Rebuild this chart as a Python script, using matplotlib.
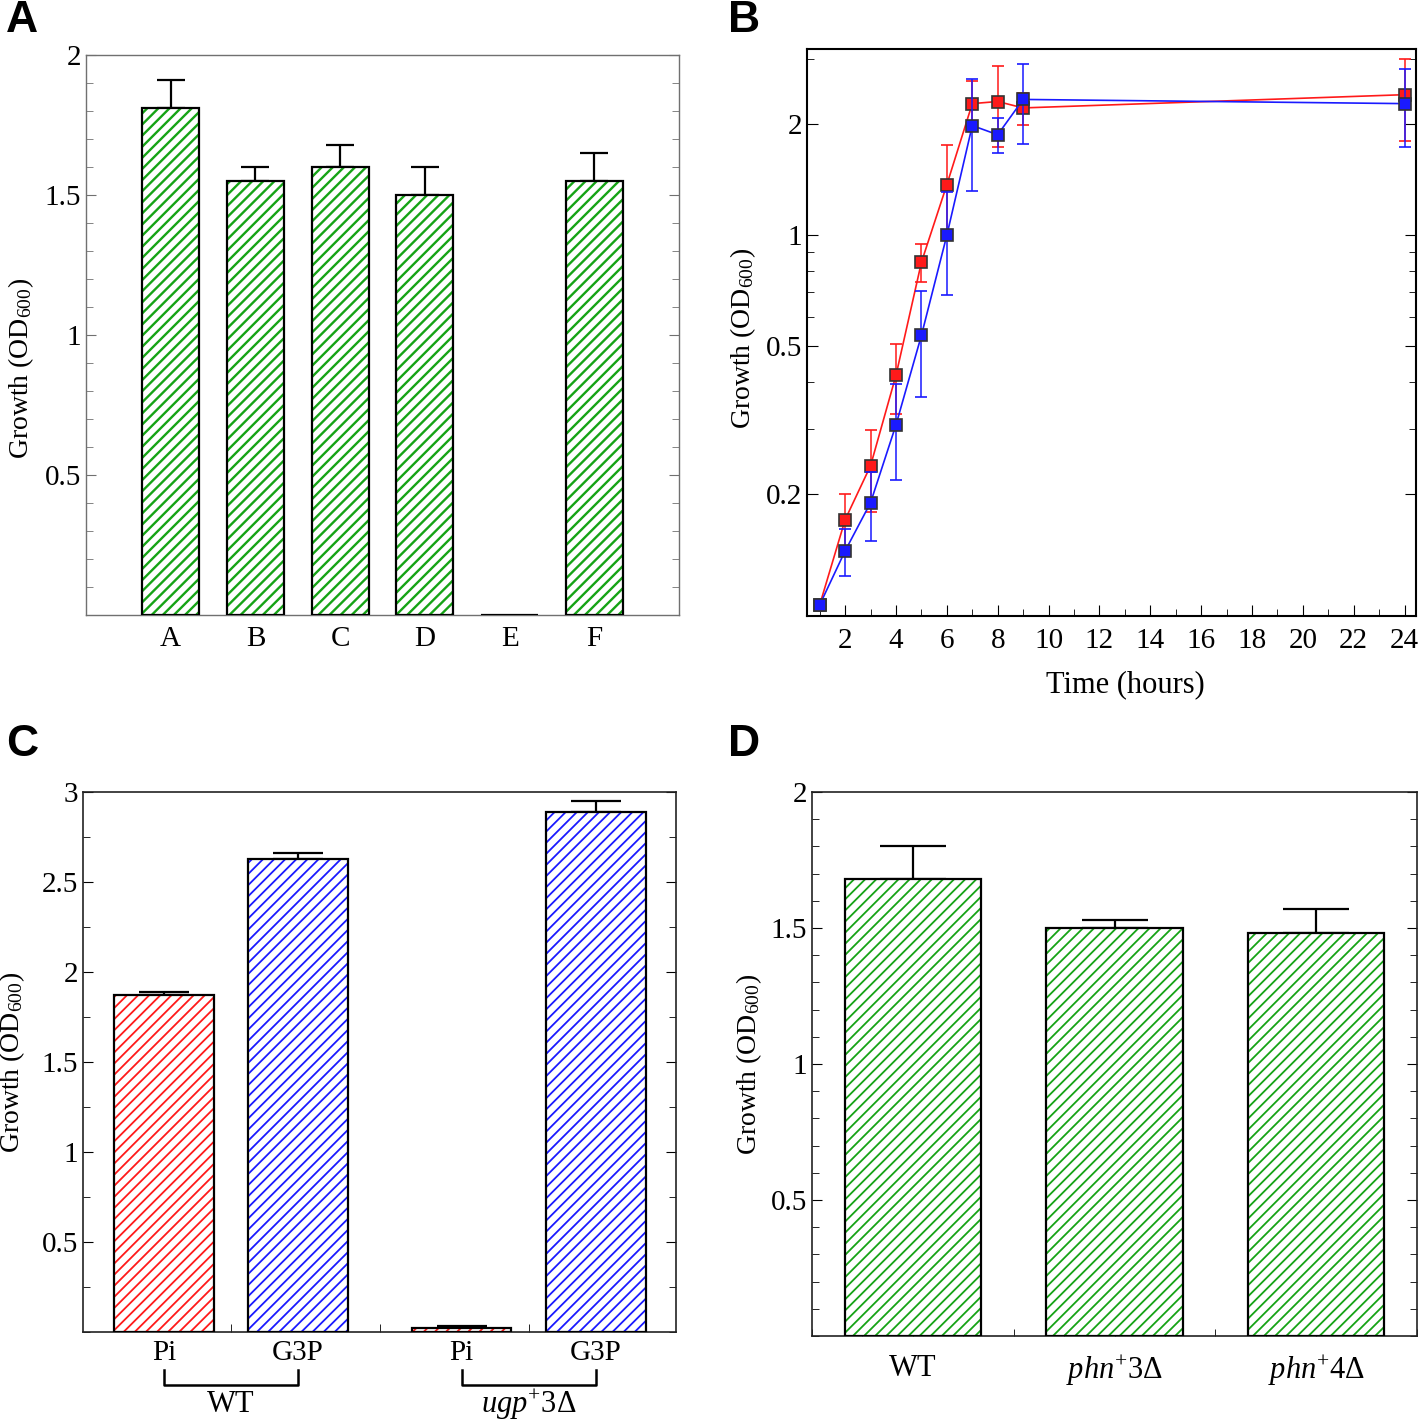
import numpy as np
import matplotlib
matplotlib.use('Agg')
import matplotlib.pyplot as plt
from matplotlib.ticker import FixedLocator, MultipleLocator, NullFormatter, FixedFormatter, FormatStrFormatter
import matplotlib.transforms as mtransforms

plt.rcParams['font.family'] = ['Liberation Serif', 'DejaVu Serif']
plt.rcParams['mathtext.fontset'] = 'custom'
plt.rcParams['mathtext.rm'] = 'Liberation Serif'
plt.rcParams['mathtext.it'] = 'Liberation Serif:italic'
plt.rcParams['mathtext.default'] = 'regular'

# panel A
a_labels = ['A', 'B', 'C', 'D', 'E', 'F']
a_vals = [1.81, 1.55, 1.60, 1.50, 0.0, 1.55]
a_err = [0.10, 0.05, 0.08, 0.10, 0.0, 0.10]

# panel B (time course)
b_time = [1, 2, 3, 4, 5, 6, 7, 8, 9, 24]
b_red = [0.10, 0.17, 0.238, 0.418, 0.845, 1.37, 2.27, 2.30, 2.21, 2.40]
b_red_err = [0.0, 0.03, 0.06, 0.09, 0.10, 0.38, 0.34, 0.57, 0.22, 0.60]
b_blue = [0.10, 0.14, 0.189, 0.307, 0.536, 1.00, 1.98, 1.87, 2.33, 2.27]
b_blue_err = [0.0, 0.02, 0.04, 0.09, 0.17, 0.31, 0.66, 0.20, 0.57, 0.54]

# panel C
c_labels = ['Pi', 'G3P', 'Pi', 'G3P']
c_groups = ['WT', r'$\it{ugp}^{+}$3Δ']
c_vals = [1.87, 2.63, 0.02, 2.89]
c_err = [0.02, 0.03, 0.015, 0.06]

# panel D
d_labels = ['WT', r'$\it{phn}^{+}$3Δ', r'$\it{phn}^{+}$4Δ']
d_vals = [1.68, 1.50, 1.48]
d_err = [0.12, 0.03, 0.09]

GREEN = '#16a316'
RED = '#ff1a1a'
BLUE = '#1a1aff'
TS = 21
yfmt = FormatStrFormatter('%g')


def hatched_bars(ax, x, h, w, color, hlw, hatch='///'):
    plt.rcParams['hatch.linewidth'] = hlw
    bars = ax.bar(x, h, w, color='white', edgecolor=color, hatch=hatch, linewidth=0, zorder=2)
    for b in bars:
        if hasattr(b, 'set_hatch_linewidth'):
            b.set_hatch_linewidth(hlw)
    ax.bar(x, h, w, fill=False, edgecolor='black', linewidth=1.6, zorder=3)


def up_err(ax, x, v, e, cap):
    ax.errorbar(x, v, yerr=[np.zeros(len(e)), e], fmt='none', ecolor='black',
                elinewidth=1.6, capsize=cap, capthick=1.6, zorder=1)


def style_spines(ax, color, lw):
    for s in ax.spines.values():
        s.set_color(color)
        s.set_linewidth(lw)


fig = plt.figure(figsize=(14.18, 14.21), dpi=100)

# ---- A ----
axA = fig.add_axes([86 / 1418, 1 - 615 / 1421, 593 / 1418, 560 / 1421])
xa = np.arange(len(a_vals))
hatched_bars(axA, xa, a_vals, 0.67, GREEN, 1.7)
mask = [i for i in range(len(a_vals)) if a_err[i] > 0]
up_err(axA, xa[mask], np.array(a_vals)[mask], np.array(a_err)[mask], 10)
axA.set_xlim(-1, 6)
axA.set_ylim(0, 2)
axA.set_xticks(xa)
axA.set_xticklabels(a_labels)
axA.yaxis.set_major_locator(FixedLocator([0.5, 1, 1.5, 2]))
axA.yaxis.set_major_formatter(yfmt)
axA.yaxis.set_minor_locator(MultipleLocator(0.1))
axA.tick_params(axis='x', length=0, pad=8, labelsize=TS)
axA.tick_params(axis='y', which='both', direction='in', left=True, right=True, labelsize=TS, color='#707070')
axA.tick_params(axis='y', which='major', length=7)
axA.tick_params(axis='y', which='minor', length=5)
style_spines(axA, '#707070', 1.0)
axA.set_ylabel('Growth (OD$_{600}$)', fontsize=TS - 1)
axA.yaxis.set_label_coords(-0.085, 0.44)

# ---- B ----
axB = fig.add_axes([807 / 1418, 1 - 616 / 1421, 609 / 1418, 567 / 1421])
axB.errorbar(b_time, b_red, yerr=b_red_err, color=RED, ecolor=RED, lw=1.2, elinewidth=1.1,
             capsize=4, capthick=1.1, marker='s', ms=8, mfc=RED, mec='#333333', mew=1.2, zorder=3)
axB.errorbar(b_time, b_blue, yerr=b_blue_err, color=BLUE, ecolor=BLUE, lw=1.2, elinewidth=1.1,
             capsize=4, capthick=1.1, marker='s', ms=8, mfc=BLUE, mec='#333333', mew=1.2, zorder=4)
axB.set_yscale('log')
axB.set_ylim(0.0933, 3.19)
axB.set_xlim(0.5, 24.45)
axB.yaxis.set_major_locator(FixedLocator([0.2, 0.5, 1, 2]))
axB.yaxis.set_major_formatter(FixedFormatter(['0.2', '0.5', '1', '2']))
axB.yaxis.set_minor_locator(FixedLocator([0.3, 0.4, 0.6, 0.7, 0.8, 0.9, 3]))
axB.yaxis.set_minor_formatter(NullFormatter())
axB.xaxis.set_major_locator(MultipleLocator(2))
axB.xaxis.set_minor_locator(MultipleLocator(1))
axB.set_xticks(range(2, 25, 2))
axB.tick_params(axis='both', which='both', direction='in', labelsize=TS)
axB.tick_params(axis='y', which='both', left=True, right=True)
axB.tick_params(axis='both', which='major', length=8)
axB.tick_params(axis='both', which='minor', length=5)
axB.tick_params(axis='x', pad=9)
style_spines(axB, 'black', 1.5)
axB.set_xlabel('Time (hours)', fontsize=TS + 1)
axB.xaxis.set_label_coords(0.522, -0.095)
axB.set_ylabel('Growth (OD$_{600}$)', fontsize=TS - 1)
axB.yaxis.set_label_coords(-0.08, 0.49)

# ---- C ----
axC = fig.add_axes([83 / 1418, 1 - 1332 / 1421, 593 / 1418, 540 / 1421])
xc = np.array([0, 1, 2.22, 3.22])
plt.rcParams['hatch.linewidth'] = 1.3
bars = axC.bar(xc[[0, 2]], np.array(c_vals)[[0, 2]], 0.745, color='white', edgecolor=RED,
               hatch='///', linewidth=0, zorder=2)
bars2 = axC.bar(xc[[1, 3]], np.array(c_vals)[[1, 3]], 0.745, color='white', edgecolor=BLUE,
                hatch='///', linewidth=0, zorder=2)
for b in list(bars) + list(bars2):
    if hasattr(b, 'set_hatch_linewidth'):
        b.set_hatch_linewidth(1.3)
axC.bar(xc, c_vals, 0.745, fill=False, edgecolor='black', linewidth=1.6, zorder=3)
up_err(axC, xc, c_vals, c_err, 18)
axC.set_xlim(-0.604, 3.82)
axC.set_ylim(0, 3)
axC.set_xticks(xc)
axC.set_xticklabels(c_labels)
axC.xaxis.set_minor_locator(FixedLocator((xc[:-1] + xc[1:]) / 2))
axC.tick_params(axis='x', which='major', length=0, pad=6, labelsize=TS)
axC.tick_params(axis='x', which='minor', direction='in', length=6)
axC.yaxis.set_major_locator(FixedLocator([0.5, 1, 1.5, 2, 2.5, 3]))
axC.yaxis.set_major_formatter(yfmt)
axC.yaxis.set_minor_locator(MultipleLocator(0.25))
axC.tick_params(axis='y', which='both', direction='in', left=True, right=True, labelsize=TS)
axC.tick_params(axis='y', which='major', length=7)
axC.tick_params(axis='y', which='minor', length=5)
style_spines(axC, '#222222', 1.2)
axC.set_ylabel('Growth (OD$_{600}$)', fontsize=TS - 1)
axC.yaxis.set_label_coords(-0.094, 0.5)
trC = mtransforms.blended_transform_factory(axC.transData, axC.transAxes)
for gi, (i0, i1) in enumerate([(0, 1), (2, 3)]):
    axC.plot([xc[i0], xc[i0], xc[i1], xc[i1]], [-0.070, -0.098, -0.098, -0.070],
             color='black', lw=1.8, transform=trC, clip_on=False)
    axC.text((xc[i0] + xc[i1]) / 2, -0.135, c_groups[gi], transform=trC, ha='center',
             va='center', fontsize=TS + 1)

# ---- D ----
axD = fig.add_axes([812 / 1418, 1 - 1336 / 1421, 605 / 1418, 544 / 1421])
xd = np.arange(len(d_vals))
hatched_bars(axD, xd, d_vals, 0.675, GREEN, 1.3)
up_err(axD, xd, d_vals, d_err, 24)
axD.set_xlim(-0.5, 2.5)
axD.set_ylim(0, 2)
axD.set_xticks(xd)
axD.set_xticklabels(d_labels)
axD.xaxis.set_minor_locator(MultipleLocator(0.25))
axD.tick_params(axis='x', which='both', direction='in', length=5, pad=13, labelsize=TS + 1)
axD.yaxis.set_major_locator(FixedLocator([0.5, 1, 1.5, 2]))
axD.yaxis.set_major_formatter(yfmt)
axD.yaxis.set_minor_locator(MultipleLocator(0.1))
axD.tick_params(axis='y', which='both', direction='in', left=True, right=True, labelsize=TS)
axD.tick_params(axis='y', which='major', length=7)
axD.tick_params(axis='y', which='minor', length=5)
style_spines(axD, '#222222', 1.2)
axD.set_ylabel('Growth (OD$_{600}$)', fontsize=TS - 1)
axD.yaxis.set_label_coords(-0.08, 0.5)

# panel letters
for lab, (px, py) in zip('ABCD', [(22, 20), (744, 20), (22, 745), (744, 745)]):
    fig.text(px / 1418, 1 - py / 1421, lab, fontsize=32, fontweight='bold',
             family=['Liberation Sans', 'DejaVu Sans'], ha='center', va='center')

fig.savefig('out.png', dpi=100)
